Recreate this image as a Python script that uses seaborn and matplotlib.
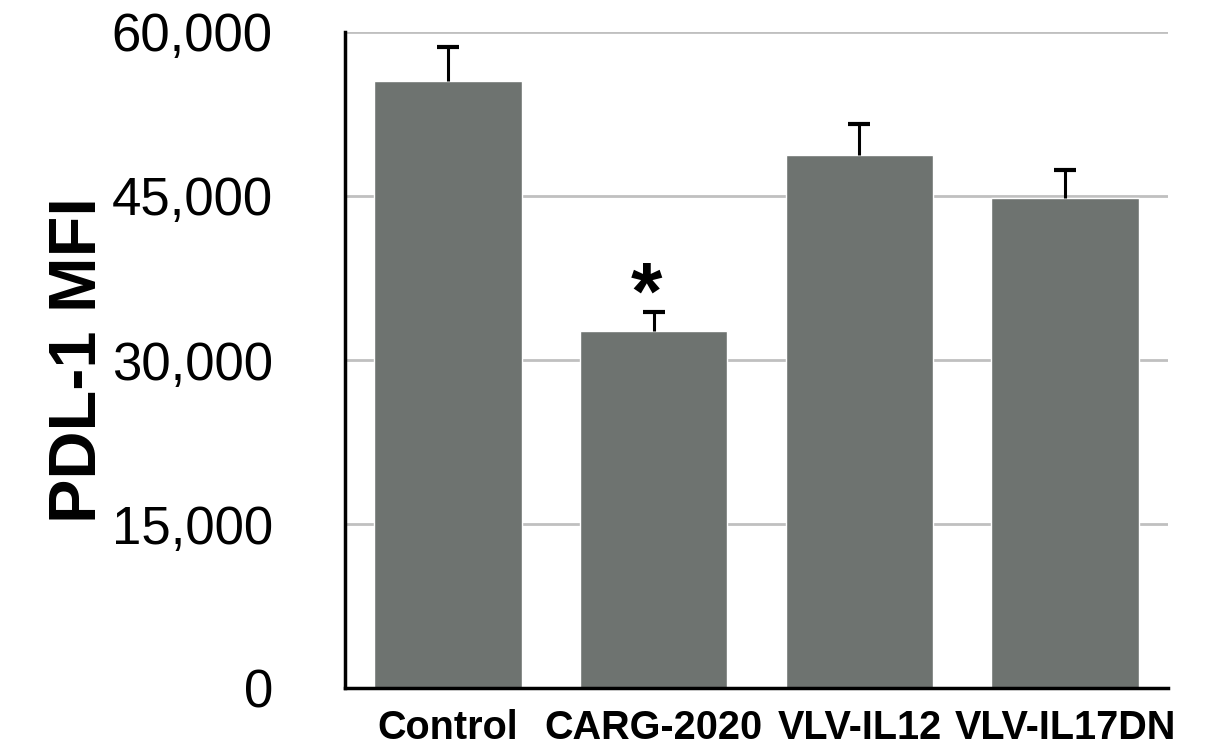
import pandas as pd
import matplotlib
matplotlib.use('Agg')
import matplotlib.pyplot as plt
import seaborn as sns

# PDL-1 MFI per treatment group
groups = ['Control', 'CARG-2020', 'VLV-IL12', 'VLV-IL17DN']
mfi = [55500, 32650, 48750, 44800]
sem = [3100, 1750, 2850, 2550]
y_ticks = [0, 15000, 30000, 45000, 60000]

df = pd.DataFrame({'group': groups, 'mfi': mfi})

sns.set_style('white')
plt.rcParams['font.family'] = ['Liberation Sans', 'DejaVu Sans']
plt.rcParams['text.color'] = 'black'
plt.rcParams['xtick.color'] = 'black'
plt.rcParams['ytick.color'] = 'black'
plt.rcParams['axes.labelcolor'] = 'black'

fig = plt.figure(figsize=(12.05, 7.49), dpi=100)
ax = fig.add_axes([0.2863, 0.0814, 0.683, 0.8759])

ax.grid(axis='y', color='#c0c0c0', linewidth=2)
ax.set_axisbelow(True)

sns.barplot(data=df, x='group', y='mfi', color='#6e7370', saturation=1,
            width=0.717, ax=ax, zorder=2)

# upper error bars only
eb = ax.errorbar(range(len(groups)), mfi, yerr=[[0] * len(groups), sem], fmt='none',
                 ecolor='black', elinewidth=2.2, capsize=8, capthick=3, zorder=3)
eb[1][0].set_visible(False)  # drop the lower cap

# significance marker
ax.text(1 - 0.035, 35700, '*', ha='center', va='center',
        fontsize=58, fontweight='bold')

ax.set_ylim(0, 60000)
ax.set_xlim(-0.5, 3.5)
ax.set_yticks(y_ticks)
ax.set_yticklabels([f'{v:,}' for v in y_ticks], fontsize=38)
ax.tick_params(axis='y', length=0, pad=52)
ax.tick_params(axis='x', length=0, pad=15, labelsize=28.5)
for lbl in ax.get_xticklabels():
    lbl.set_fontweight('bold')

ax.set_xlabel('')
ax.set_ylabel('PDL-1 MFI', fontsize=48, fontweight='bold', labelpad=1)

for side in ['top', 'right']:
    ax.spines[side].set_visible(False)
for side in ['left', 'bottom']:
    ax.spines[side].set_color('black')
    ax.spines[side].set_linewidth(2.5)

fig.savefig('out.png', dpi=100)
